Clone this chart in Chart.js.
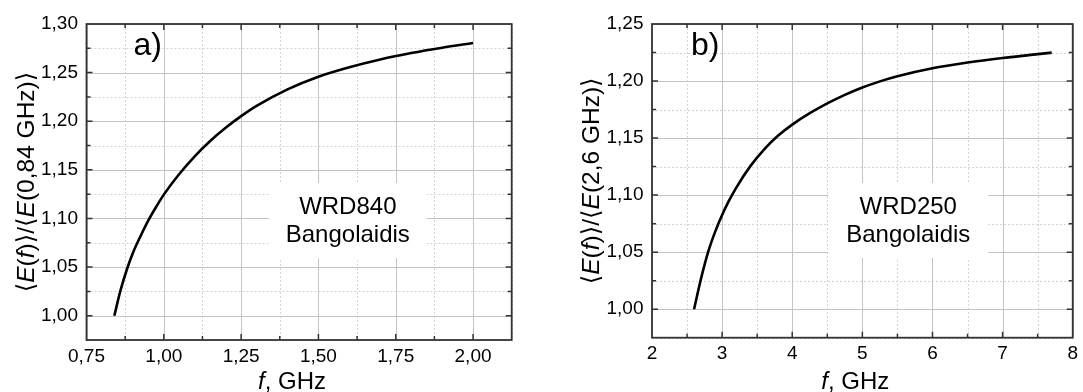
<!DOCTYPE html>
<html>
<head>
<meta charset="utf-8">
<script src="https://cdn.jsdelivr.net/npm/chart.js@4.4.1/dist/chart.umd.min.js"></script>
<style>
  html, body { margin: 0; padding: 0; background: #fff; }
  #wrap { position: relative; width: 1083px; height: 392px; overflow: hidden; }
  canvas { position: absolute; top: 0; }
  #chartA { left: 0; }
  #chartB { left: 541px; }
</style>
</head>
<body>
<div id="wrap">
  <canvas id="chartA" width="541" height="392"></canvas>
  <canvas id="chartB" width="542" height="392"></canvas>
</div>
<script>
// ── Panel a) WRD840 ─────────────────────────────────────────
const freqA = [0.84, 0.86, 0.88, 0.90, 0.925, 0.95, 0.975, 1.00, 1.05, 1.10, 1.15,
               1.20, 1.25, 1.30, 1.40, 1.50, 1.60, 1.70, 1.80, 1.90, 2.00];
const ratioA = [1.000, 1.026, 1.047, 1.0645, 1.082, 1.098, 1.1118, 1.1245, 1.1457, 1.1639, 1.1796,
                1.1932, 1.2052, 1.2158, 1.2328, 1.2458, 1.2555, 1.2635, 1.2701, 1.2756, 1.2804];
const xTicksA = [0.75, 1.00, 1.25, 1.50, 1.75, 2.00];
const yTicksA = [1.00, 1.05, 1.10, 1.15, 1.20, 1.25, 1.30];

// ── Panel b) WRD250 ─────────────────────────────────────────
const freqB = [2.60, 2.70, 2.80, 2.90, 3.00, 3.10, 3.20, 3.40, 3.60, 3.80, 4.00,
               4.25, 4.50, 4.75, 5.00, 5.25, 5.50, 6.00, 6.50, 7.00, 7.40, 7.70];
const ratioB = [1.000, 1.027, 1.050, 1.0678, 1.0826, 1.0953, 1.1064, 1.1252, 1.1402, 1.1522, 1.1618,
                1.1718, 1.1804, 1.1879, 1.1944, 1.1997, 1.2042, 1.2112, 1.2162, 1.2202, 1.2229, 1.2249];
const xTicksB = [2, 3, 4, 5, 6, 7, 8];
const yTicksB = [1.00, 1.05, 1.10, 1.15, 1.20, 1.25];

const FONT = '"Liberation Sans", Arial, "DejaVu Sans", sans-serif';
Chart.defaults.font.family = FONT;
Chart.defaults.color = "#000";

function comma(v, d) { return v.toFixed(d).replace(".", ","); }

// minor positions halfway between majors (Origin style)
function minorsOf(majors, min, max) {
  const step = majors[1] - majors[0];
  const out = [];
  for (let v = majors[0] - step / 2; v <= max + 1e-9; v += step) {
    if (v >= min - 1e-9) out.push(v);
  }
  return out;
}

// draw text pieces with mixed italic, centred on 0
function drawRich(ctx, parts, size) {
  let total = 0;
  const widths = parts.map(function (p) {
    ctx.font = (p[1] ? "italic " : "") + size + "px " + FONT;
    const w = ctx.measureText(p[0]).width;
    total += w;
    return w;
  });
  let x = -total / 2;
  parts.forEach(function (p, i) {
    ctx.font = (p[1] ? "italic " : "") + size + "px " + FONT;
    ctx.fillText(p[0], x, 0);
    x += widths[i];
  });
}

const panelDecor = {
  id: "panelDecor",
  beforeDatasetsDraw(chart, args, o) {
    const ctx = chart.ctx, a = chart.chartArea;
    const xs = chart.scales.x, ys = chart.scales.y;
    ctx.save();
    // minor grid (dotted)
    ctx.strokeStyle = "#d4d4d4";
    ctx.lineWidth = 1;
    ctx.setLineDash([2, 2]);
    minorsOf(o.xTicks, xs.min, xs.max).forEach(function (v) {
      const p = Math.round(xs.getPixelForValue(v)) + 0.5;
      ctx.beginPath(); ctx.moveTo(p, a.top); ctx.lineTo(p, a.bottom); ctx.stroke();
    });
    minorsOf(o.yTicks, ys.min, ys.max).forEach(function (v) {
      const p = Math.round(ys.getPixelForValue(v)) + 0.5;
      ctx.beginPath(); ctx.moveTo(a.left, p); ctx.lineTo(a.right, p); ctx.stroke();
    });
    // major grid
    ctx.setLineDash([]);
    ctx.strokeStyle = "#c4c4c4";
    o.xTicks.forEach(function (v) {
      const p = Math.round(xs.getPixelForValue(v)) + 0.5;
      ctx.beginPath(); ctx.moveTo(p, a.top); ctx.lineTo(p, a.bottom); ctx.stroke();
    });
    o.yTicks.forEach(function (v) {
      const p = Math.round(ys.getPixelForValue(v)) + 0.5;
      ctx.beginPath(); ctx.moveTo(a.left, p); ctx.lineTo(a.right, p); ctx.stroke();
    });
    // white label box
    const bx0 = xs.getPixelForValue(o.box[0]), bx1 = xs.getPixelForValue(o.box[1]);
    const by0 = ys.getPixelForValue(o.box[3]), by1 = ys.getPixelForValue(o.box[2]);
    ctx.fillStyle = "#fff";
    ctx.fillRect(bx0, by0, bx1 - bx0, by1 - by0);
    ctx.restore();
  },
  afterDatasetsDraw(chart, args, o) {
    const ctx = chart.ctx, a = chart.chartArea;
    const xs = chart.scales.x, ys = chart.scales.y;
    ctx.save();
    // inward ticks on all four sides
    ctx.strokeStyle = "#333";
    ctx.lineWidth = 1.5;
    function xTick(v, len) {
      const p = xs.getPixelForValue(v);
      if (p < a.left + 1 || p > a.right - 1) return;
      ctx.beginPath();
      ctx.moveTo(p, a.bottom); ctx.lineTo(p, a.bottom - len);
      ctx.moveTo(p, a.top); ctx.lineTo(p, a.top + len);
      ctx.stroke();
    }
    function yTick(v, len) {
      const p = ys.getPixelForValue(v);
      if (p < a.top + 1 || p > a.bottom - 1) return;
      ctx.beginPath();
      ctx.moveTo(a.left, p); ctx.lineTo(a.left + len, p);
      ctx.moveTo(a.right, p); ctx.lineTo(a.right - len, p);
      ctx.stroke();
    }
    o.xTicks.forEach(function (v) { xTick(v, 6); });
    minorsOf(o.xTicks, xs.min, xs.max).forEach(function (v) { xTick(v, 4); });
    o.yTicks.forEach(function (v) { yTick(v, 6); });
    minorsOf(o.yTicks, ys.min, ys.max).forEach(function (v) { yTick(v, 4); });
    // frame
    ctx.lineWidth = 1.8;
    ctx.strokeRect(a.left, a.top, a.right - a.left, a.bottom - a.top);

    ctx.fillStyle = "#000";
    ctx.textBaseline = "alphabetic";
    // panel letter
    ctx.textAlign = "left";
    ctx.font = "32px " + FONT;
    ctx.fillText(o.letter, a.left + o.letterDx, a.top + 31);
    // box text
    ctx.textAlign = "center";
    ctx.font = "24px " + FONT;
    const cx = xs.getPixelForValue((o.box[0] + o.box[1]) / 2);
    const cy = ys.getPixelForValue((o.box[2] + o.box[3]) / 2);
    ctx.fillText(o.boxText[0], cx, cy - 6.5);
    ctx.fillText(o.boxText[1], cx, cy + 21.5);
    // axis titles
    ctx.textAlign = "left";
    ctx.save();
    ctx.translate((a.left + a.right) / 2 - 7, 389);
    drawRich(ctx, o.xTitle, 24);
    ctx.restore();
    ctx.save();
    ctx.translate(a.left - 53, (a.top + a.bottom) / 2);
    ctx.rotate(-Math.PI / 2);
    drawRich(ctx, o.yTitle, 24.5);
    ctx.restore();
    ctx.restore();
  }
};

function makeChart(id, cfg) {
  const pts = cfg.freq.map(function (f, i) { return { x: f, y: cfg.ratio[i] }; });
  return new Chart(document.getElementById(id), {
    type: "line",
    data: {
      datasets: [{
        data: pts,
        borderColor: "#000",
        borderWidth: 2.6,
        pointRadius: 0,
        fill: false,
        cubicInterpolationMode: "monotone",
      }],
    },
    options: {
      responsive: false,
      animation: false,
      devicePixelRatio: 1,
      layout: { padding: { top: 24, right: cfg.padRight, left: 0, bottom: 0 } },
      plugins: {
        legend: { display: false },
        tooltip: { enabled: false },
        panelDecor: {
          xTicks: cfg.xTicks, yTicks: cfg.yTicks,
          box: cfg.box, boxText: cfg.boxText,
          letter: cfg.letter, letterDx: cfg.letterDx,
          xTitle: [["f", 1], [", GHz", 0]],
          yTitle: cfg.yTitle,
        },
      },
      scales: {
        x: {
          type: "linear",
          min: cfg.xMin, max: cfg.xMax,
          grid: { display: false, drawTicks: false },
          border: { display: false },
          afterBuildTicks: function (s) { s.ticks = cfg.xTicks.map(function (v) { return { value: v }; }); },
          afterFit: function (s) { s.height = cfg.xAxisH; },
          ticks: {
            autoSkip: false, maxRotation: 0, padding: 5,
            font: { size: 19 }, color: "#000",
            callback: function (v) { return cfg.xFmt(v); },
          },
        },
        y: {
          type: "linear",
          min: 0.975, max: cfg.yMax,
          grid: { display: false, drawTicks: false },
          border: { display: false },
          afterBuildTicks: function (s) { s.ticks = cfg.yTicks.map(function (v) { return { value: v }; }); },
          afterFit: function (s) { s.width = cfg.yAxisW; },
          ticks: {
            autoSkip: false, padding: 8.5,
            font: { size: 19 }, color: "#000",
            callback: function (v) { return comma(v, 2); },
          },
        },
      },
    },
    plugins: [panelDecor],
  });
}

makeChart("chartA", {
  freq: freqA, ratio: ratioA, xTicks: xTicksA, yTicks: yTicksA,
  xMin: 0.75, xMax: 2.125, yMax: 1.30,
  yAxisW: 86.5, xAxisH: 52, padRight: 29.3,
  xFmt: function (v) { return comma(v, 2); },
  box: [1.34, 1.85, 1.059, 1.1364],
  boxText: ["WRD840", "Bangolaidis"],
  letter: "a)", letterDx: 47,
  yTitle: [["\u27E8", 0], ["E", 1], ["(", 0], ["f", 1], [")\u27E9/\u27E8", 0], ["E", 1], ["(0,84 GHz)\u27E9", 0]],
});

makeChart("chartB", {
  freq: freqB, ratio: ratioB, xTicks: xTicksB, yTicks: yTicksB,
  xMin: 2, xMax: 8, yMax: 1.25,
  yAxisW: 111, xAxisH: 54.3, padRight: 6,
  xFmt: function (v) { return String(v); },
  box: [4.514, 6.796, 1.0449, 1.1106],
  boxText: ["WRD250", "Bangolaidis"],
  letter: "b)", letterDx: 39,
  yTitle: [["\u27E8", 0], ["E", 1], ["(", 0], ["f", 1], [")\u27E9/\u27E8", 0], ["E", 1], ["(2,6 GHz)\u27E9", 0]],
});
</script>
</body>
</html>
